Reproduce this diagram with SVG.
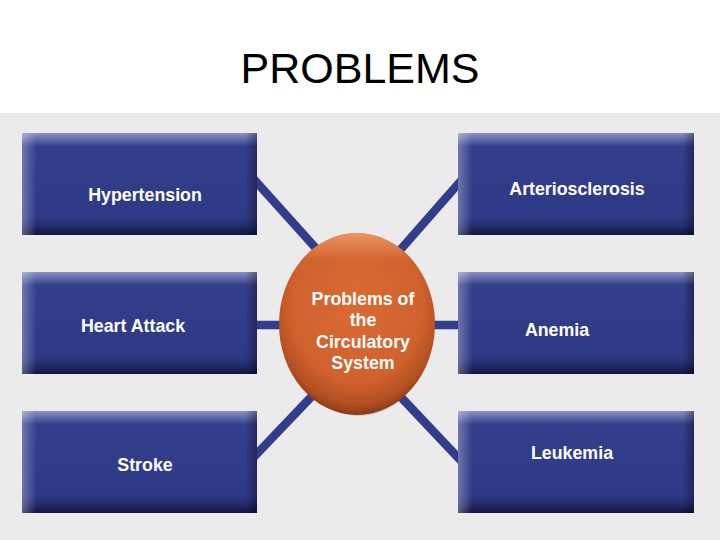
<svg xmlns="http://www.w3.org/2000/svg" width="720" height="540" viewBox="0 0 720 540">
  <defs>
    <linearGradient id="boxV" x1="0" y1="0" x2="0" y2="1">
      <stop offset="0" stop-color="#8a92c4"/>
      <stop offset="0.13" stop-color="#343f8c"/>
      <stop offset="0.82" stop-color="#2f3a86"/>
      <stop offset="0.9" stop-color="#252f72"/>
      <stop offset="1" stop-color="#12163f"/>
    </linearGradient>
    <linearGradient id="boxH" x1="0" y1="0" x2="1" y2="0">
      <stop offset="0" stop-color="#ffffff" stop-opacity="0.3"/>
      <stop offset="0.06" stop-color="#ffffff" stop-opacity="0"/>
      <stop offset="0.95" stop-color="#000000" stop-opacity="0"/>
      <stop offset="1" stop-color="#000000" stop-opacity="0.35"/>
    </linearGradient>
    <radialGradient id="ball" cx="0.5" cy="0.4" r="0.6">
      <stop offset="0" stop-color="#d96a34"/>
      <stop offset="0.7" stop-color="#d0622d"/>
      <stop offset="0.9" stop-color="#b34f22"/>
      <stop offset="1" stop-color="#8a3a16"/>
    </radialGradient>
    <linearGradient id="ballTop" x1="0" y1="0" x2="0" y2="1">
      <stop offset="0" stop-color="#f5a070" stop-opacity="0.8"/>
      <stop offset="0.15" stop-color="#f5a070" stop-opacity="0"/>
      <stop offset="1" stop-color="#f5a070" stop-opacity="0"/>
    </linearGradient>
    <style>
      .title { font-family: "Liberation Sans", Arial, sans-serif; font-size: 43px; fill: #000; }
      .lbl { font-family: "Liberation Sans", Arial, sans-serif; font-size: 17.8px; font-weight: bold; fill: #ffffff; text-anchor: middle; }
      .conn { stroke: #323d8b; stroke-width: 8.5; fill: none; }
    </style>
  </defs>

  <rect x="0" y="0" width="720" height="540" fill="#ffffff"/>
  <rect x="0" y="113" width="720" height="427" fill="#ebebeb"/>

  <text class="title" x="360" y="83" text-anchor="middle">PROBLEMS</text>

  <g id="connectors">
    <line class="conn" x1="250" y1="175" x2="322" y2="255"/>
    <line class="conn" x1="466" y1="175" x2="394" y2="257"/>
    <line class="conn" x1="250" y1="325" x2="290" y2="325"/>
    <line class="conn" x1="425" y1="325" x2="466" y2="325"/>
    <line class="conn" x1="314" y1="394" x2="250" y2="461"/>
    <line class="conn" x1="398" y1="394" x2="466" y2="466"/>
  </g>

  <g id="hypertension">
    <rect x="22" y="133" width="235" height="102" fill="url(#boxV)"/>
    <rect x="22" y="133" width="235" height="102" fill="url(#boxH)"/>
    <text class="lbl" x="145" y="201">Hypertension</text>
  </g>
  <g id="heart-attack">
    <rect x="22" y="272" width="235" height="102" fill="url(#boxV)"/>
    <rect x="22" y="272" width="235" height="102" fill="url(#boxH)"/>
    <text class="lbl" x="133" y="332">Heart Attack</text>
  </g>
  <g id="stroke">
    <rect x="22" y="411" width="235" height="102" fill="url(#boxV)"/>
    <rect x="22" y="411" width="235" height="102" fill="url(#boxH)"/>
    <text class="lbl" x="145" y="471">Stroke</text>
  </g>
  <g id="arteriosclerosis">
    <rect x="458" y="133" width="236" height="102" fill="url(#boxV)"/>
    <rect x="458" y="133" width="236" height="102" fill="url(#boxH)"/>
    <text class="lbl" x="577" y="195">Arteriosclerosis</text>
  </g>
  <g id="anemia">
    <rect x="458" y="272" width="236" height="102" fill="url(#boxV)"/>
    <rect x="458" y="272" width="236" height="102" fill="url(#boxH)"/>
    <text class="lbl" x="557" y="336">Anemia</text>
  </g>
  <g id="leukemia">
    <rect x="458" y="411" width="236" height="102" fill="url(#boxV)"/>
    <rect x="458" y="411" width="236" height="102" fill="url(#boxH)"/>
    <text class="lbl" x="572" y="459">Leukemia</text>
  </g>

  <g id="center">
    <ellipse cx="359" cy="328" rx="72" ry="88" fill="#000" opacity="0.15"/>
    <ellipse cx="357" cy="324" rx="78" ry="91" fill="url(#ball)"/>
    <ellipse cx="357" cy="324" rx="78" ry="91" fill="url(#ballTop)"/>
    <text class="lbl" x="363" y="305">Problems of</text>
    <text class="lbl" x="363" y="326">the</text>
    <text class="lbl" x="363" y="348">Circulatory</text>
    <text class="lbl" x="363" y="369">System</text>
  </g>
</svg>
